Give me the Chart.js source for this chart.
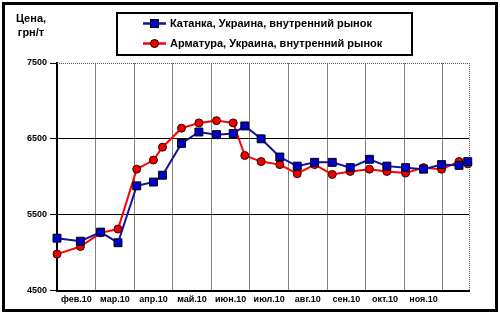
<!DOCTYPE html>
<html><head><meta charset="utf-8">
<script src="https://cdn.jsdelivr.net/npm/chart.js@4/dist/chart.umd.min.js"></script>
<style>html,body{margin:0;padding:0;background:#fff}#wrap{width:500px;height:314px;position:relative}</style>
</head><body><div id="wrap"><canvas id="c" width="500" height="314"></canvas></div>
<script>
// ---- data ----
const dates = ['2010-02-01','2010-02-18','2010-03-05','2010-03-19','2010-04-03','2010-04-16','2010-04-23',
  '2010-05-08','2010-05-22','2010-06-05','2010-06-18','2010-06-27','2010-07-10','2010-07-25','2010-08-08',
  '2010-08-22','2010-09-05','2010-09-19','2010-10-04','2010-10-18','2010-11-02','2010-11-16','2010-11-30',
  '2010-12-14','2010-12-21'];
const katanka = [5190,5150,5270,5130,5880,5930,6020,6440,6590,6555,6570,6670,6500,6260,6140,6190,6190,6120,6230,6140,6120,6100,6160,6150,6200];
const armatura = [4980,5080,5260,5310,6100,6220,6390,6640,6710,6740,6710,6280,6200,6160,6040,6160,6030,6070,6100,6070,6050,6120,6100,6200,6170];
const monthLabels = ['фев.10','мар.10','апр.10','май.10','июн.10','июл.10','авг.10','сен.10','окт.10','ноя.10'];
const yTicks = [4500,5500,6500,7500];
const seriesNames = ['Катанка, Украина, внутренний рынок','Арматура, Украина, внутренний рынок'];
const axisTitle = ['Цена,','грн/т'];
const axisEnd = '2010-12-22';

// month-equal-width position (0 = 1 Feb 2010)
function monthPos(s){
  const [y,m,d] = s.split('-').map(Number);
  const dim = new Date(y, m, 0).getDate();
  return (y-2010)*12 + (m-2) + (d-1)/dim;
}

const FONT = "'Liberation Sans', Arial, sans-serif";
Chart.defaults.font.family = FONT;

const BLUE_LINE = '#12129E', BLUE_PT = '#0000CC';
const RED_LINE = '#FF0000', RED_PT = '#EE0000';

const decor = {
  id:'decor',
  beforeDraw(chart){
    const c = chart.ctx;
    c.save(); c.fillStyle='#fff'; c.fillRect(0,0,chart.width,chart.height); c.restore();
  },
  beforeDatasetsDraw(chart){
    const c = chart.ctx, a = chart.chartArea;
    c.save();
    c.strokeStyle = '#555'; c.lineWidth = 1; c.setLineDash([1,1]);
    c.beginPath();
    c.moveTo(a.left, Math.round(a.top)+0.5); c.lineTo(Math.round(a.right)+0.5, Math.round(a.top)+0.5);
    c.lineTo(Math.round(a.right)+0.5, a.bottom);
    c.stroke();
    c.restore();
  },
  afterDraw(chart){
    const c = chart.ctx;
    c.save();
    // outer frame
    c.strokeStyle='#000'; c.lineWidth=3;
    c.strokeRect(3.5,3.5,493,307);
    // axis title
    c.fillStyle='#000'; c.font = 'bold 11px ' + FONT; c.textAlign='center'; c.textBaseline='middle';
    c.fillText(axisTitle[0], 31, 19);
    c.fillText(axisTitle[1], 31, 33);
    // legend
    c.lineWidth=2; c.strokeStyle='#000';
    c.strokeRect(117,13,295,42);
    const rows = [23.5, 43.5];
    chart.data.datasets.forEach((ds,i)=>{
      const y = rows[i];
      c.strokeStyle = ds.borderColor; c.lineWidth = 2.5;
      c.beginPath(); c.moveTo(143,y); c.lineTo(166,y); c.stroke();
      c.fillStyle = ds.pointBackgroundColor; c.strokeStyle='#000'; c.lineWidth=1;
      if (ds.pointStyle==='rect'){ c.fillRect(150.5,y-4,8,8); c.strokeRect(150.5,y-4,8,8); }
      else { c.beginPath(); c.arc(154.5,y,4,0,Math.PI*2); c.fill(); c.stroke(); }
      c.fillStyle='#000'; c.font='bold 11px ' + FONT; c.textAlign='left'; c.textBaseline='middle';
      c.fillText(ds.label, 170, y);
    });
    c.restore();
  }
};

new Chart(document.getElementById('c'), {
  type:'line',
  data:{datasets:[
    {label:seriesNames[0], data:dates.map((d,i)=>({x:monthPos(d), y:katanka[i]})),
     borderColor:BLUE_LINE, borderWidth:2, pointStyle:'rect', pointRadius:5.6,
     pointBackgroundColor:BLUE_PT, pointBorderColor:'#000', pointBorderWidth:1, tension:0, clip:false},
    {label:seriesNames[1], data:dates.map((d,i)=>({x:monthPos(d), y:armatura[i]})),
     borderColor:RED_LINE, borderWidth:2, pointStyle:'circle', pointRadius:4,
     pointBackgroundColor:RED_PT, pointBorderColor:'#300', pointBorderWidth:1, tension:0, clip:false}
  ]},
  options:{
    responsive:false, animation:false, devicePixelRatio:1,
    layout:{padding:{top:63,right:31,left:0,bottom:0}},
    plugins:{legend:{display:false}, tooltip:{enabled:false}},
    scales:{
      x:{type:'linear', min:0, max:monthPos(axisEnd),
        afterBuildTicks(s){
          const t=[];
          for(let i=0;i<=10;i++){ t.push({value:i}); if(i<monthLabels.length) t.push({value:i+0.5}); }
          s.ticks=t;
        },
        afterFit(s){ s.height = 23.5; },
        grid:{color(ctx){ const v=ctx.tick&&ctx.tick.value; return (Number.isInteger(v) && v>0) ? '#808080' : 'rgba(0,0,0,0)'; },
              lineWidth:1, drawTicks:false},
        border:{color:'#000', width:2},
        ticks:{autoSkip:false, maxRotation:0, minRotation:0, padding:4, color:'#000',
          font:{size:9, weight:'bold'},
          callback(v){ return Number.isInteger(v) ? '' : monthLabels[Math.floor(v)]; }}
      },
      y:{min:4500, max:7500,
        afterBuildTicks(s){ s.ticks = yTicks.map(v=>({value:v})); },
        afterFit(s){ s.width = 57; },
        grid:{color(ctx){ const v=ctx.tick&&ctx.tick.value; return (v===5500||v===6500) ? '#000' : 'rgba(0,0,0,0)'; },
              tickColor:'#000', tickLength:7, lineWidth:1},
        border:{color:'#000', width:2},
        ticks:{padding:3, color:'#000', font:{size:9, weight:'bold'},
          callback(v){ return String(v); }}
      }
    }
  },
  plugins:[decor]
});
</script>
</body></html>
